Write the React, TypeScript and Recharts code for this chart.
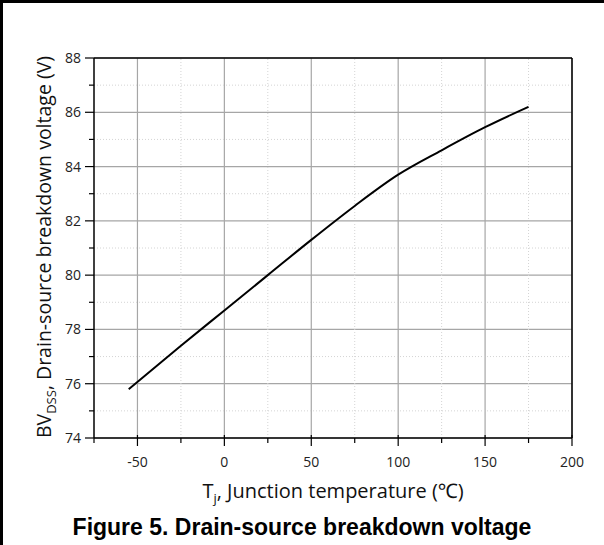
import React from 'react'
import { LineChart, Line, XAxis, YAxis, CartesianGrid, ReferenceLine, Label } from 'recharts'

// Tj (°C) vs BVdss (V)
const temps = [-55, -25, 0, 25, 50, 75, 100, 125, 150, 175]
const bvdss = [75.8, 77.4, 78.7, 80.0, 81.3, 82.55, 83.7, 84.6, 85.45, 86.2]

const xMajor = [-50, 0, 50, 100, 150, 200]
const xMinor = [-75, -25, 25, 75, 125, 175]
const yMajor = [74, 76, 78, 80, 82, 84, 86, 88]
const yMinor = [75, 77, 79, 81, 83, 85, 87]

const data = temps.map((t, i) => ({ t, v: bvdss[i] }))

const FONT = '"Open Sans", "Noto Sans", sans-serif'

const XTick = (props: any) => {
  const { x, y, payload } = props
  const major = xMajor.includes(payload.value)
  return (
    <g>
      <line x1={x} x2={x} y1={y - (major ? 3 : 0)} y2={y + (major ? 8 : 5)} stroke="#000" strokeWidth={1.2} />
      {major && (
        <text x={x} y={y + 29} textAnchor="middle" fontFamily={FONT} fontSize={14} fill="#222">
          {payload.value}
        </text>
      )}
    </g>
  )
}

const YTick = (props: any) => {
  const { x, y, payload } = props
  const major = yMajor.includes(payload.value)
  return (
    <g>
      <line x1={x - (major ? 9 : 5)} x2={x} y1={y} y2={y} stroke="#000" strokeWidth={1.2} />
      {major && (
        <text x={x - 13} y={y + 5} textAnchor="end" fontFamily={FONT} fontSize={14} fill="#222">
          {payload.value}
        </text>
      )}
    </g>
  )
}

const XTitle = () => (
  <text x={333} y={498} textAnchor="middle" fontFamily={FONT} fontSize={20} fill="#111">
    T<tspan fontSize={13} dy={5}>j</tspan>
    <tspan dy={-5}>, Junction temperature (℃)</tspan>
  </text>
)

const YTitle = () => (
  <text
    x={0}
    y={0}
    transform="translate(51,247) rotate(-90)"
    textAnchor="middle"
    fontFamily={FONT}
    fontSize={19.5}
    fill="#111"
  >
    BV<tspan fontSize={13} dy={5}>DSS</tspan>
    <tspan dy={-5}>, Drain-source breakdown voltage (V)</tspan>
  </text>
)

export default function App() {
  return (
    <div
      style={{
        position: 'absolute',
        left: 0,
        top: 0,
        width: 604,
        height: 545,
        background: '#fff',
        overflow: 'hidden',
      }}
    >
      <div
        style={{
          position: 'absolute',
          left: 0,
          top: 0,
          width: 610,
          height: 560,
          borderTop: '3px solid #000',
          borderLeft: '3px solid #000',
          boxSizing: 'border-box',
        }}
      />
      <LineChart
        width={604}
        height={545}
        data={data}
        margin={{ top: 58, right: 32, bottom: 47, left: 34 }}
        style={{ position: 'absolute', left: 0, top: 0 }}
      >
        <CartesianGrid
          stroke="#a6a6a6"
          strokeWidth={1.2}
          horizontalValues={yMajor}
          verticalValues={xMajor}
        />
        {xMinor.slice(1).map((v) => (
          <ReferenceLine key={'xm' + v} x={v} stroke="#d4d4d4" strokeDasharray="1 2" />
        ))}
        {yMinor.map((v) => (
          <ReferenceLine key={'ym' + v} y={v} stroke="#d4d4d4" strokeDasharray="1 2" />
        ))}
        <ReferenceLine x={200} stroke="#000" strokeWidth={1.5} />
        <ReferenceLine y={88} stroke="#000" strokeWidth={1.5} />
        <XAxis
          dataKey="t"
          type="number"
          domain={[-75, 200]}
          ticks={[...xMinor, ...xMajor].sort((a, b) => a - b)}
          interval={0}
          tickSize={0}
          tickMargin={0}
          tickLine={false}
          tick={<XTick />}
          axisLine={{ stroke: '#000', strokeWidth: 1.5 }}
          height={60}
        >
          <Label content={<XTitle />} />
        </XAxis>
        <YAxis
          type="number"
          domain={[74, 88]}
          ticks={[...yMinor, ...yMajor].sort((a, b) => a - b)}
          interval={0}
          tickSize={0}
          tickMargin={0}
          tickLine={false}
          tick={<YTick />}
          axisLine={{ stroke: '#000', strokeWidth: 1.5 }}
          width={60}
        >
          <Label content={<YTitle />} />
        </YAxis>
        <Line
          type="monotone"
          dataKey="v"
          stroke="#000"
          strokeWidth={2}
          dot={false}
          isAnimationActive={false}
        />
      </LineChart>
      <div
        style={{
          position: 'absolute',
          left: 0,
          width: 604,
          top: 513,
          textAlign: 'center',
          fontFamily: '"Liberation Sans", Arial, sans-serif',
          fontWeight: 'bold',
          fontSize: 23,
          lineHeight: '28px',
          color: '#000',
        }}
      >
        Figure 5. Drain-source breakdown voltage
      </div>
    </div>
  )
}
